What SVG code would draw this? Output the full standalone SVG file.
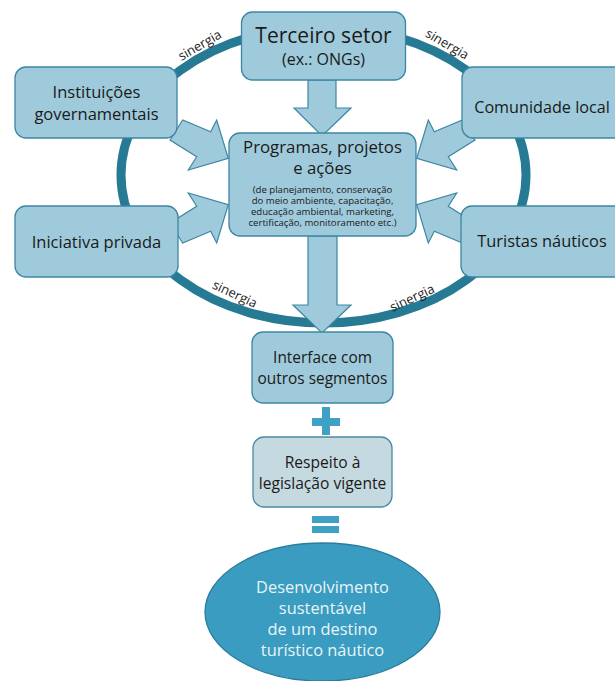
<svg xmlns="http://www.w3.org/2000/svg" width="615" height="681" viewBox="0 0 615 681">
<style>
.box{fill:#9fcadb;stroke:#3d86a3;stroke-width:1.3}
.arrow{fill:#9fcadb;stroke:#3d86a3;stroke-width:1.2;stroke-linejoin:miter}
.t{font-family:"Open Sans","Liberation Sans",sans-serif;fill:#1a1a1a;text-anchor:middle}
.syn{font-family:"Open Sans","Liberation Sans",sans-serif;fill:#222;font-size:13px;text-anchor:middle}
.op{fill:#3fa1c6}
</style>
<rect width="615" height="681" fill="#ffffff"/>
<g id="ring">
<ellipse cx="323.5" cy="175" rx="202.5" ry="148" fill="none" stroke="#267a94" stroke-width="9"/>
<text class="syn" transform="translate(202,49) rotate(-30)">sinergia</text>
<text class="syn" transform="translate(445,48) rotate(30)">sinergia</text>
<text class="syn" transform="translate(233,298) rotate(25)">sinergia</text>
<text class="syn" transform="translate(414,302) rotate(-25)">sinergia</text>
</g>
<g id="connectors">
<polygon class="arrow" points="308,80 336,80 336,108 351,108 322,136 294,108 308,108"/>
<polygon class="arrow" points="170,140 182.7,120 210.7,131.7 216.7,120 228.3,158.3 188.3,170 196.7,156.7"/>
<polygon class="arrow" points="170,223 182.7,243 210.7,231.3 216.7,243 228.3,204.7 188.3,193 196.7,206.3"/>
<polygon class="arrow" points="475,140 462.3,120 434.3,131.7 428.3,120 416.7,158.3 456.7,170 448.3,156.7"/>
<polygon class="arrow" points="475,223 462.3,243 434.3,231.3 428.3,243 416.7,204.7 456.7,193 448.3,206.3"/>
<polygon class="arrow" points="308,236 337,236 337,305 351,305 322,333 293,305 308,305"/>
</g>
<g id="terceiro">
<rect class="box" x="241.5" y="12" width="164" height="68" rx="11"/>
<text class="t" x="323.5" y="43" font-size="21">Terceiro setor</text>
<text class="t" x="323.5" y="65" font-size="16">(ex.: ONGs)</text>
</g>
<g id="instituicoes">
<rect class="box" x="15" y="67" width="162" height="71" rx="11"/>
<text class="t" x="96.5" y="98" font-size="16.5">Instituições</text>
<text class="t" x="96.5" y="120" font-size="16.5">governamentais</text>
</g>
<g id="comunidade">
<rect class="box" x="462" y="67" width="170" height="71" rx="11"/>
<text class="t" x="542" y="113" font-size="16.2">Comunidade local</text>
</g>
<g id="programas">
<rect class="box" x="229" y="133" width="187" height="103" rx="11"/>
<text class="t" x="322.5" y="153" font-size="16.8">Programas, projetos</text>
<text class="t" x="322.5" y="174" font-size="16.8">e ações</text>
<text class="t" x="322.5" y="193" font-size="9.6">(de planejamento, conservação</text>
<text class="t" x="322.5" y="204" font-size="9.6">do meio ambiente, capacitação,</text>
<text class="t" x="322.5" y="215" font-size="9.6">educação ambiental, marketing,</text>
<text class="t" x="322.5" y="226" font-size="9.6">certificação, monitoramento etc.)</text>
</g>
<g id="iniciativa">
<rect class="box" x="15" y="206" width="163" height="71" rx="11"/>
<text class="t" x="96.5" y="248" font-size="16.5">Iniciativa privada</text>
</g>
<g id="turistas">
<rect class="box" x="461" y="206" width="170" height="71" rx="11"/>
<text class="t" x="542" y="247" font-size="16.4">Turistas náuticos</text>
</g>
<g id="interface">
<rect class="box" x="252" y="332" width="141" height="71" rx="11"/>
<text class="t" x="322.5" y="363" font-size="15.4">Interface com</text>
<text class="t" x="322.5" y="384" font-size="15.4">outros segmentos</text>
</g>
<g id="mais">
<rect class="op" x="322" y="407" width="8" height="28"/>
<rect class="op" x="312" y="418" width="28" height="8"/>
</g>
<g id="respeito">
<rect x="253" y="437" width="139" height="70" rx="11" fill="#c5d9e1" stroke="#4a8aa5" stroke-width="1.3"/>
<text class="t" x="322.5" y="468" font-size="15.6">Respeito à</text>
<text class="t" x="322.5" y="489" font-size="15.6">legislação vigente</text>
</g>
<g id="igual">
<rect class="op" x="312" y="516" width="27" height="7"/>
<rect class="op" x="312" y="526" width="27" height="7"/>
</g>
<g id="desenvolvimento">
<ellipse cx="322.5" cy="612" rx="117.5" ry="69" fill="#3a9cc0" stroke="#2b7c9b" stroke-width="1.3"/>
<text class="t" x="322.5" y="593" font-size="16.4" style="fill:#e8f4f8">Desenvolvimento</text>
<text class="t" x="322.5" y="614" font-size="16.4" style="fill:#e8f4f8">sustentável</text>
<text class="t" x="322.5" y="635" font-size="16.4" style="fill:#e8f4f8">de um destino</text>
<text class="t" x="322.5" y="656" font-size="16.4" style="fill:#e8f4f8">turístico náutico</text>
</g>
</svg>
